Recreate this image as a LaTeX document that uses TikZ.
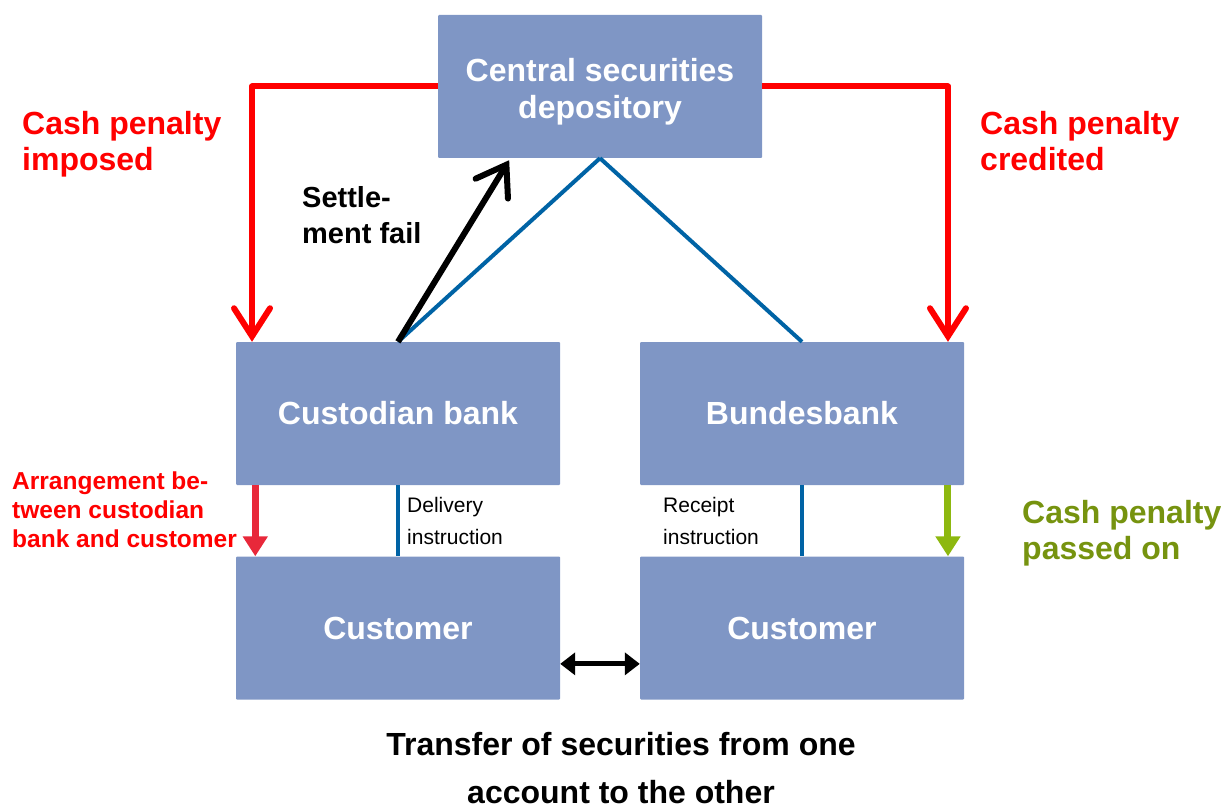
\documentclass[tikz,border=0pt]{standalone}
\usepackage{fontspec}
\setmainfont{Liberation Sans}
\usetikzlibrary{arrows.meta,calc}
\definecolor{boxfill}{HTML}{7F96C5}
\definecolor{penred}{HTML}{FF0000}
\definecolor{arrred}{HTML}{E8283A}
\definecolor{linkblue}{HTML}{0063A5}
\definecolor{arrgreen}{HTML}{8DB80F}
\definecolor{txtgreen}{HTML}{76930F}
\tikzset{
  entity/.style={rectangle, fill=boxfill, minimum width=324pt, minimum height=143pt, inner sep=0pt, rounded corners=1pt, text=white, font=\fontsize{32}{37}\selectfont\bfseries, align=center},
  penalty/.style={draw=penred, line width=6pt, line join=round, -{Straight Barb[length=28pt,width=36pt,line cap=round]}},
  settle/.style={draw=black, line width=6pt, -{Straight Barb[length=28pt,width=38pt,line cap=round]}},
  link/.style={draw=linkblue, line width=4pt},
  redlabel/.style={text=penred, font=\fontsize{32}{36}\selectfont\bfseries, align=left, inner sep=0pt},
  smalllabel/.style={font=\fontsize{21}{32}\selectfont, align=left, inner sep=0pt},
}
\begin{document}
\begin{tikzpicture}[x=1pt,y=-1pt]
\useasboundingbox (0,0) rectangle (1221,805);
\node[entity] (csd) at (600,86.5) {\rule{0pt}{34pt}Central securities\\depository};
\node[entity] (cust) at (398,413.5) {Custodian bank};
\node[entity] (bund) at (802,413.5) {Bundesbank};
\node[entity] (c1) at (398,628) {Customer};
\node[entity] (c2) at (802,628) {Customer};

% blue links
\draw[link] (csd.south) -- (cust.north);
\draw[link] (csd.south) -- (bund.north);
% settlement fail
\coordinate (sf) at ($(csd.south west)!0.22!(csd.south east)+(0,2)$);
\draw[settle] (cust.north) -- (sf);
% penalties
\coordinate (pl) at ($(cust.north west)!0.05!(cust.north east)$);
\coordinate (pr) at ($(bund.north west)!0.95!(bund.north east)$);
\draw[penalty] (csd.west) -| (pl);
\draw[penalty] (csd.east) -| (pr);
% lower connectors
\coordinate (al) at ($(cust.south west)!0.06!(cust.south east)$);
\draw[draw=arrred, line width=7pt, -{Triangle[length=20pt,width=24pt]}] (al) -- (al |- c1.north);
\draw[link] (cust.south) -- (c1.north);
\draw[link] (bund.south) -- (c2.north);
\coordinate (gl) at ($(bund.south west)!0.95!(bund.south east)$);
\draw[draw=arrgreen, line width=7pt, -{Triangle[length=20pt,width=24pt]}] (gl) -- (gl |- c2.north);
\coordinate (dl) at ($(c1.north east)!0.75!(c1.south east)$);
\draw[line width=5pt, {Triangle[length=15pt,width=22pt]}-{Triangle[length=15pt,width=22pt]}] (dl) -- (dl -| c2.west);

% labels
\node[redlabel, anchor=north west] (l1) at (22,111) {Cash penalty\\imposed};
\node[redlabel, anchor=north west] (l2) at (980,111) {Cash penalty\\credited};
\node[anchor=north west, inner sep=0pt, align=left, font=\fontsize{29}{36}\selectfont\bfseries] (l3) at (302,186) {Settle-\\ment fail};
\node[anchor=north west, inner sep=0pt, align=left, text=penred, font=\fontsize{24.5}{29}\selectfont\bfseries] (l4) at (12,472) {Arrangement be-\\tween custodian\\bank and customer};
\node[smalllabel, anchor=north west] (l5) at (407,497) {Delivery\\instruction};
\node[smalllabel, anchor=north west] (l6) at (663,497) {Receipt\\instruction};
\node[anchor=north west, inner sep=0pt, align=left, text=txtgreen, font=\fontsize{32}{36}\selectfont\bfseries] (l7) at (1022,500) {Cash penalty\\passed on};
\node[anchor=north, inner sep=0pt, align=center, font=\fontsize{32}{48}\selectfont\bfseries] (l8) at (621,732) {Transfer of securities from one\\account to the other};
\end{tikzpicture}
\end{document}
